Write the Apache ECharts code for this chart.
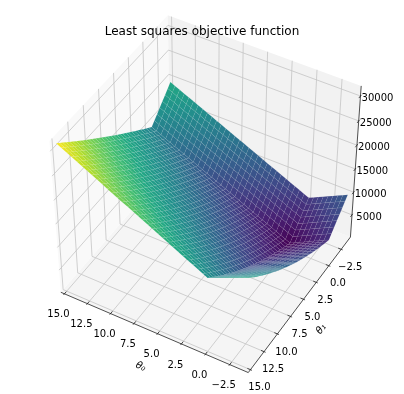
<!DOCTYPE html>
<html><head><meta charset="utf-8">
<style>html,body{margin:0;padding:0;background:#fff}#c{width:404px;height:394px}</style>
<script src="https://cdn.jsdelivr.net/npm/echarts@6/dist/echarts.min.js"></script></head><body><div id="c"></div>
<script>
const theta0 = [-4,-3.5,-3,-2.5,-2,-1.5,-1,-0.5,0,0.5,1,1.5,2,2.5,3,3.5,4,4.5,5,5.5,6,6.5,7,7.5,8,8.5,9,9.5,10,10.5,11,11.5,12,12.5,13,13.5,14,14.5,15];
const theta1 = [-4,-3.5,-3,-2.5,-2,-1.5,-1,-0.5,0,0.5,1,1.5,2,2.5,3,3.5,4,4.5,5,5.5,6,6.5,7,7.5,8,8.5,9,9.5,10,10.5,11,11.5,12,12.5,13,13.5,14,14.5,15];
const zRows = [
[9650,9163,8675,8188,7700,7213,6725,6238,5750,6197,6645,7092,7539,7987,8434,8881,9329,9776,10223,10670,11118,11565,12012,12460,12907,13354,13802,14249,14696,15143,15591,16038,16485,16933,17380,17827,18275,18722,19170],
[8947,8456,7965,7474,6983,6493,6002,5511,5020,5468,5916,6363,6811,7259,7707,8154,8602,9050,9498,9946,10393,10841,11289,11737,12184,12632,13080,13528,13975,14423,14871,15319,15767,16214,16662,17110,17558,18005,18453],
[8244,7750,7255,6761,6267,5773,5279,4784,4290,4738,5186,5635,6083,6531,6979,7427,7876,8324,8772,9220,9668,10117,10565,11013,11461,11909,12358,12806,13254,13702,14150,14599,15047,15495,15943,16391,16840,17288,17736],
[7541,7043,6546,6048,5551,5053,4555,4058,3560,4009,4457,4906,5355,5803,6252,6700,7149,7598,8046,8495,8944,9392,9841,10289,10738,11187,11635,12084,12533,12981,13430,13878,14327,14776,15224,15673,16122,16570,17019],
[6839,6338,5837,5336,4835,4333,3832,3331,2830,3279,3728,4177,4626,5075,5524,5973,6422,6871,7320,7769,8218,8667,9116,9565,10014,10463,10913,11362,11811,12260,12709,13158,13607,14056,14505,14954,15403,15852,16301],
[6136,5632,5127,4623,4118,3614,3109,2605,2100,2549,2999,3448,3898,4347,4797,5246,5696,6145,6595,7044,7494,7943,8393,8842,9292,9741,10191,10640,11089,11539,11988,12438,12887,13337,13786,14236,14685,15135,15584],
[5433,4925,4417,3909,3402,2894,2386,1878,1370,1820,2270,2720,3170,3620,4069,4519,4969,5419,5869,6319,6769,7219,7669,8119,8568,9018,9468,9918,10368,10818,11268,11718,12168,12618,13067,13517,13967,14417,14867],
[4730,4219,3708,3196,2685,2174,1663,1151,640,1090,1541,1991,2441,2892,3342,3792,4243,4693,5143,5594,6044,6494,6945,7395,7845,8296,8746,9196,9647,10097,10547,10998,11448,11898,12349,12799,13249,13700,14150],
[5016,4510,4005,3499,2994,2488,1982,1477,971,1427,1883,2339,2795,3251,3707,4163,4619,5075,5531,5987,6443,6899,7355,7811,8267,8723,9179,9635,10091,10547,11003,11459,11915,12371,12827,13283,13739,14195,14651],
[5316,4816,4316,3815,3315,2815,2315,1814,1314,1775,2237,2698,3160,3621,4083,4544,5005,5467,5928,6390,6851,7313,7774,8235,8697,9158,9620,10081,10543,11004,11466,11927,12388,12850,13311,13773,14234,14696,15157],
[5629,5134,4639,4144,3649,3153,2658,2163,1668,2135,2601,3068,3534,4001,4467,4934,5401,5867,6334,6800,7267,7733,8200,8667,9133,9600,10066,10533,10999,11466,11932,12399,12866,13332,13799,14265,14732,15198,15665],
[5954,5464,4974,4484,3994,3503,3013,2523,2033,2504,2976,3447,3919,4390,4862,5333,5805,6276,6748,7219,7691,8162,8634,9105,9577,10048,10520,10991,11462,11934,12405,12877,13348,13820,14291,14763,15234,15706,16177],
[6293,5808,5322,4837,4352,3866,3381,2895,2410,2886,3362,3838,4314,4790,5267,5743,6219,6695,7171,7647,8123,8599,9075,9552,10028,10504,10980,11456,11932,12408,12884,13360,13836,14313,14789,15265,15741,16217,16693],
[6645,6164,5683,5202,4721,4240,3759,3278,2797,3278,3758,4239,4719,5200,5680,6161,6641,7122,7602,8083,8563,9044,9524,10005,10485,10966,11446,11927,12407,12888,13368,13849,14329,14810,15290,15771,16251,16732,17212],
[7010,6533,6057,5580,5104,4627,4150,3674,3197,3682,4166,4651,5135,5620,6105,6589,7074,7558,8043,8528,9012,9497,9981,10466,10951,11435,11920,12404,12889,13374,13858,14343,14827,15312,15797,16281,16766,17250,17735],
[7388,6915,6443,5970,5498,5025,4552,4080,3607,4096,4584,5073,5561,6050,6538,7027,7515,8004,8492,8981,9469,9958,10446,10935,11423,11912,12400,12889,13377,13866,14354,14843,15331,15820,16308,16797,17285,17774,18262],
[7779,7310,6842,6373,5904,5435,4967,4498,4029,4521,5013,5505,5997,6490,6982,7474,7966,8458,8950,9442,9934,10426,10918,11411,11903,12395,12887,13379,13871,14363,14855,15347,15839,16332,16824,17316,17808,18300,18792],
[8183,7718,7253,6788,6323,5857,5392,4927,4462,4957,5453,5948,6444,6939,7435,7930,8426,8921,9417,9912,10408,10903,11399,11894,12390,12885,13381,13876,14371,14867,15362,15858,16353,16849,17344,17840,18335,18831,19326],
[8600,8138,7677,7215,6753,6291,5830,5368,4906,5405,5903,6402,6900,7399,7897,8396,8895,9393,9892,10390,10889,11387,11886,12385,12883,13382,13880,14379,14877,15376,15874,16373,16872,17370,17869,18367,18866,19364,19863],
[9030,8572,8113,7655,7196,6738,6279,5821,5362,5863,6365,6866,7368,7869,8370,8872,9373,9875,10376,10877,11379,11880,12382,12883,13384,13886,14387,14889,15390,15891,16393,16894,17396,17897,18398,18900,19401,19903,20404],
[9474,9018,8563,8107,7652,7196,6740,6285,5829,6333,6837,7341,7845,8349,8853,9357,9861,10365,10869,11373,11877,12381,12885,13389,13892,14396,14900,15404,15908,16412,16916,17420,17924,18428,18932,19436,19940,20444,20948],
[9930,9477,9025,8572,8119,7666,7214,6761,6308,6814,7321,7827,8333,8839,9346,9852,10358,10864,11371,11877,12383,12890,13396,13902,14408,14915,15421,15927,16433,16940,17446,17952,18458,18965,19471,19977,20484,20990,21496],
[10399,9949,9499,9048,8598,8148,7698,7247,6797,7305,7814,8322,8830,9339,9847,10356,10864,11372,11881,12389,12897,13406,13914,14423,14931,15439,15948,16456,16964,17473,17981,18490,18998,19506,20015,20523,21031,21540,22048],
[10882,10434,9986,9538,9090,8642,8194,7746,7298,7808,8318,8829,9339,9849,10359,10869,11379,11890,12400,12910,13420,13930,14440,14951,15461,15971,16481,16991,17501,18012,18522,19032,19542,20052,20562,21073,21583,22093,22603],
[11378,10932,10486,10040,9594,9148,8702,8256,7810,8322,8833,9345,9857,10369,10880,11392,11904,12416,12927,13439,13951,14463,14974,15486,15998,16510,17021,17533,18045,18557,19068,19580,20092,20603,21115,21627,22139,22650,23162],
[11887,11443,10998,10554,10110,9666,9222,8778,8334,8847,9360,9873,10386,10899,11412,11925,12438,12951,13464,13977,14490,15003,15516,16029,16542,17055,17568,18081,18594,19107,19620,20133,20646,21159,21672,22185,22698,23211,23724],
[12408,11966,11523,11081,10639,10196,9754,9311,8869,9383,9897,10411,10925,11439,11953,12467,12981,13495,14009,14523,15037,15551,16065,16580,17094,17608,18122,18636,19150,19664,20178,20692,21206,21720,22234,22748,23262,23776,24290],
[12943,12502,12061,11620,11179,10738,10297,9856,9415,9930,10445,10959,11474,11989,12504,13019,13533,14048,14563,15078,15593,16107,16622,17137,17652,18167,18681,19196,19711,20226,20741,21255,21770,22285,22800,23315,23829,24344,24859],
[13491,13051,12612,12172,11732,11292,10853,10413,9973,10488,11004,11519,12034,12550,13065,13580,14095,14611,15126,15641,16157,16672,17187,17703,18218,18733,19248,19764,20279,20794,21310,21825,22340,22856,23371,23886,24401,24917,25432],
[14052,13613,13175,12736,12297,11858,11420,10981,10542,11058,11573,12089,12605,13120,13636,14151,14667,15182,15698,16213,16729,17244,17760,18276,18791,19307,19822,20338,20853,21369,21884,22400,22916,23431,23947,24462,24978,25493,26009],
[14626,14188,13750,13312,12874,12436,11998,11560,11122,11638,12153,12669,13185,13700,14216,14731,15247,15763,16278,16794,17309,17825,18341,18856,19372,19887,20403,20919,21434,21950,22465,22981,23497,24012,24528,25043,25559,26075,26589],
[15213,14776,14338,13901,13463,13026,12588,12151,11713,12228,12744,13259,13774,14290,14805,15320,15836,16351,16866,17382,17897,18412,18928,19443,19958,20474,20989,21504,22020,22535,23050,23566,24081,24596,25112,25627,26142,26658,27173],
[15814,15377,14940,14502,14065,13628,13191,12753,12316,12831,13346,13860,14375,14890,15405,15920,16434,16949,17464,17979,18494,19008,19523,20038,20553,21068,21582,22097,22612,23127,23642,24156,24671,25186,25701,26216,26730,27245,27760],
[16427,15990,15553,15116,14679,14241,13804,13367,12930,13444,13958,14472,14986,15500,16014,16528,17042,17556,18070,18584,19098,19612,20126,20641,21155,21669,22183,22697,23211,23725,24239,24753,25267,25781,26295,26809,27323,27837,28351],
[17054,16617,16179,15742,15305,14867,14430,13992,13555,14068,14581,15094,15607,16120,16633,17146,17659,18172,18685,19198,19711,20224,20737,21250,21763,22276,22790,23303,23816,24329,24842,25355,25868,26381,26894,27407,27920,28433,28946],
[17693,17255,16817,16380,15942,15505,15067,14629,14192,14704,15215,15727,16239,16751,17262,17774,18286,18798,19309,19821,20333,20845,21356,21868,22380,22892,23403,23915,24427,24939,25450,25962,26474,26985,27497,28009,28521,29032,29544],
[18346,17908,17469,17031,16593,16155,15717,15278,14840,15350,15860,16371,16881,17391,17901,18411,18922,19432,19942,20452,20962,21473,21983,22493,23003,23513,24024,24534,25044,25554,26064,26575,27085,27595,28105,28615,29126,29636,30146],
[19011,18572,18133,17694,17255,16816,16377,15938,15499,16007,16516,17024,17532,18041,18549,19058,19566,20074,20583,21091,21599,22108,22616,23125,23633,24141,24650,25158,25666,26175,26683,27191,27700,28208,28717,29225,29733,30242,30751],
[19690,19250,18810,18370,17930,17490,17050,16610,16170,16676,17183,17689,18195,18702,19208,19714,20221,20727,21233,21739,22246,22752,23258,23765,24271,24777,25284,25790,26296,26803,27309,27815,28322,28828,29334,29840,30347,30853,31360]
];
const ticks0 = [-2.5,0,2.5,5,7.5,10,12.5,15];
const ticks1 = [-2.5,0,2.5,5,7.5,10,12.5,15];
const ticksZ = [5000,10000,15000,20000,25000,30000];
const viridis = ['#440154','#482475','#414487','#355f8d','#2a788e','#21918c','#22a884','#44bf70','#7ad151','#bddf26','#fde725'];

const lim0=[-4,15], lim1=[-4,15], limZ=[640,31360];
const m0=(lim0[1]-lim0[0])/48, m1=(lim1[1]-lim1[0])/48, mZ=(limZ[1]-limZ[0])/48;
const A0=lim0[0]-m0,B0=lim0[1]+m0,A1=lim1[0]-m1,B1=lim1[1]+m1,AZ=limZ[0]-mZ,BZ=limZ[1]+mZ;
const elev=45*Math.PI/180, azim=120*Math.PI/180, dist=10;
const u=[-Math.sin(azim),Math.cos(azim),0];
const v=[-Math.cos(azim)*Math.sin(elev),-Math.sin(azim)*Math.sin(elev),Math.cos(elev)];
const n=[Math.cos(azim)*Math.cos(elev),Math.sin(azim)*Math.cos(elev),Math.sin(elev)];
function rel(p){return [(p[0]-lim0[0])/(lim0[1]-lim0[0])-.5,(p[1]-lim1[0])/(lim1[1]-lim1[0])-.5,(p[2]-limZ[0])/(limZ[1]-limZ[0])-.5];}
const dot=(a,b)=>a[0]*b[0]+a[1]*b[1]+a[2]*b[2];
function depth(p){return dot(rel(p),n);}
function proj(p){const r=rel(p),w=dist-dot(r,n);return [dot(r,u)/w,dot(r,v)/w];}
const zMin=Math.min(...zRows.flat()), zMax=Math.max(...zRows.flat());
function cmap(z){const t=(z-zMin)/(zMax-zMin);return echarts.color.lerp(Math.max(0,Math.min(1,t)),viridis);}

const GRID='#c4c4c4', AX='#222';
const frame=[];
frame.push({k:'p',fill:'#f5f5f5',pts:[[A0,A1,AZ],[B0,A1,AZ],[B0,B1,AZ],[A0,B1,AZ]]});
frame.push({k:'p',fill:'#f9f9f9',pts:[[B0,A1,AZ],[B0,B1,AZ],[B0,B1,BZ],[B0,A1,BZ]]});
frame.push({k:'p',fill:'#f2f2f2',pts:[[A0,A1,AZ],[B0,A1,AZ],[B0,A1,BZ],[A0,A1,BZ]]});
ticks0.forEach(t=>frame.push({k:'l',c:GRID,w:.8,pts:[[t,B1,AZ],[t,A1,AZ],[t,A1,BZ]]}));
ticks1.forEach(t=>frame.push({k:'l',c:GRID,w:.8,pts:[[A0,t,AZ],[B0,t,AZ],[B0,t,BZ]]}));
ticksZ.forEach(t=>frame.push({k:'l',c:GRID,w:.8,pts:[[B0,B1,t],[B0,A1,t],[A0,A1,t]]}));
frame.push({k:'l',c:AX,w:.8,pts:[[B0,B1,AZ],[A0,B1,AZ]]});
frame.push({k:'l',c:AX,w:.8,pts:[[A0,B1,AZ],[A0,A1,AZ]]});
frame.push({k:'l',c:AX,w:.8,pts:[[A0,A1,AZ],[A0,A1,BZ]]});
const d1=(lim1[1]-lim1[0])/12,d0=(lim0[1]-lim0[0])/12;
ticks0.forEach(t=>frame.push({k:'l',c:AX,w:.8,pts:[[t,B1-.2*d1,AZ],[t,B1+.1*d1,AZ]]}));
ticks1.forEach(t=>frame.push({k:'l',c:AX,w:.8,pts:[[A0+.2*d0,t,AZ],[A0-.1*d0,t,AZ]]}));
ticksZ.forEach(t=>frame.push({k:'l',c:AX,w:.8,pts:[[A0,A1+.2*d1,t],[A0,A1-.1*d1,t]]}));

const cells=[];
for(let j=0;j<theta1.length-1;j++)for(let i=0;i<theta0.length-1;i++){
 const pts=[[theta0[i],theta1[j],zRows[j][i]],[theta0[i+1],theta1[j],zRows[j][i+1]],[theta0[i+1],theta1[j+1],zRows[j+1][i+1]],[theta0[i],theta1[j+1],zRows[j+1][i]]];
 const d=pts.reduce((s,p)=>s+depth(p),0)/4, m=pts.reduce((s,p)=>s+p[2],0)/4;
 cells.push({pts,d,fill:cmap(m)});
}
cells.sort((a,b)=>a.d-b.d);

const labels=[];
const fmt=t=>t.toFixed(1).replace('-','\u2212');
ticks0.forEach(t=>labels.push({p:[t,B1,AZ],dx:-6,dy:21,text:fmt(t)}));
ticks1.forEach(t=>labels.push({p:[A0,t,AZ],dx:9,dy:18,text:fmt(t)}));
ticksZ.forEach(t=>labels.push({p:[A0,A1,t],dx:17,dy:2.5,text:String(t)}));
labels.push({p:[5,B1,AZ],dx:-17,dy:33,text:'\u03b8\u2080',rot:-0.42,it:1});
labels.push({p:[A0,6,AZ],dx:23,dy:23,text:'\u03b8\u2081',rot:0.9,it:1});

function draw(item,api){
 const pts=item.pts.map(p=>api.coord(proj(p)));
 if(item.k==='l')return{type:'polyline',shape:{points:pts},style:{fill:null,stroke:item.c,lineWidth:item.w},silent:true};
 return{type:'polygon',shape:{points:pts},style:{fill:item.fill,stroke:item.d===undefined?null:'rgba(255,255,255,0.09)',lineWidth:.5},silent:true};
}
const idx=a=>a.map((_,i)=>[i,0]);
const SX=2110,SY=2050,CX=207.5,CY=191.5;
const chart=echarts.init(document.getElementById('c'),null,{renderer:'canvas'});
chart.setOption({animation:false,
 title:{text:'Least squares objective function',left:'center',top:21,textStyle:{fontFamily:'DejaVu Sans',fontWeight:'normal',fontSize:12,color:'#000'}},
 grid:{left:0,right:0,top:0,bottom:0},
 xAxis:{type:'value',min:-CX/SX,max:(404-CX)/SX,show:false},
 yAxis:{type:'value',min:(CY-394)/SY,max:CY/SY,show:false},
 series:[
 {type:'custom',coordinateSystem:'cartesian2d',clip:false,progressive:0,data:idx(frame),z:1,renderItem:(p,api)=>draw(frame[api.value(0)],api)},
 {type:'custom',coordinateSystem:'cartesian2d',clip:false,progressive:0,data:idx(cells),z:2,renderItem:(p,api)=>draw(cells[api.value(0)],api)},
 {type:'custom',coordinateSystem:'cartesian2d',clip:false,progressive:0,data:idx(labels),z:3,renderItem:(p,api)=>{
   const l=labels[api.value(0)],c=api.coord(proj(l.p));
   return{type:'text',x:c[0]+l.dx,y:c[1]+l.dy,rotation:l.rot||0,silent:true,style:{text:l.text,align:'center',verticalAlign:'middle',fontFamily:'DejaVu Sans',fontSize:10,fontStyle:l.it?'italic':'normal',fill:'#000'}};
 }}
 ]});
</script></body></html>
